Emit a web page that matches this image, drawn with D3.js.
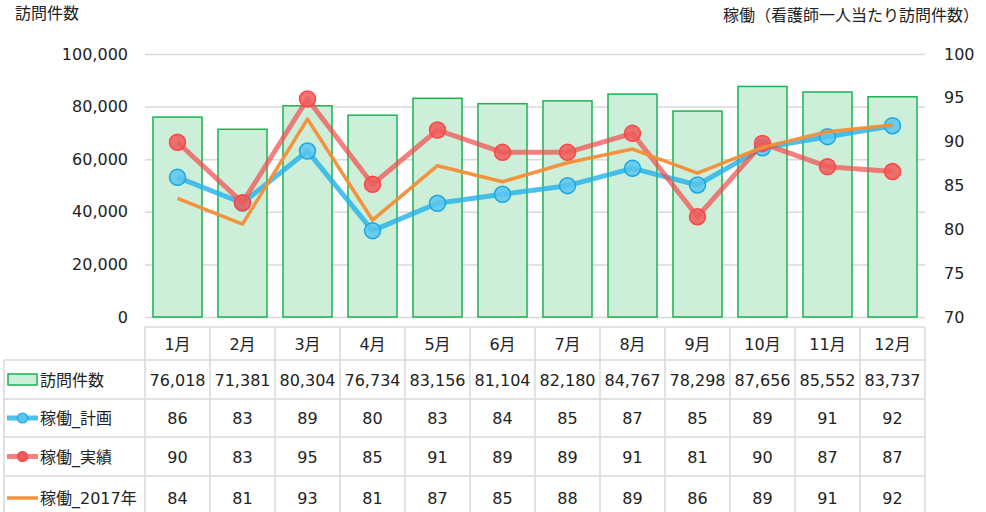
<!DOCTYPE html>
<html>
<head>
<meta charset="utf-8">
<script src="https://cdn.jsdelivr.net/npm/d3@7"></script>
<style>
  body { margin: 0; background: #fff; }
  svg text { font-family: "DejaVu Sans", "Noto Sans CJK JP", sans-serif; fill: #222; }
</style>
</head>
<body>
<div id="chart"></div>
<script>
const months = ["1月", "2月", "3月", "4月", "5月", "6月", "7月", "8月", "9月", "10月", "11月", "12月"];
const visits = [76018, 71381, 80304, 76734, 83156, 81104, 82180, 84767, 78298, 87656, 85552, 83737];
const planRate = [85.93, 83.0, 88.93, 79.85, 82.97, 84.0, 84.98, 86.96, 85.06, 89.3, 90.57, 91.82];
const actualRate = [89.93, 83.04, 94.87, 85.13, 91.33, 88.78, 88.78, 90.95, 81.44, 89.8, 87.15, 86.6];
const rate2017 = [83.54, 80.6, 92.58, 81.06, 87.26, 85.43, 87.6, 89.16, 86.4, 89.35, 91.14, 91.9];
const leftTicks = [0, 20000, 40000, 60000, 80000, 100000];
const rightTicks = [70, 75, 80, 85, 90, 95, 100];

const width = 986, height = 512;
const plotL = 145, plotR = 925, plotT = 54, plotB = 317;

const svg = d3.select("#chart").append("svg")
    .attr("width", width)
    .attr("height", height);

const x = d3.scaleBand().domain(months).range([plotL, plotR]).paddingInner(0.246).paddingOuter(0.123);
const yL = d3.scaleLinear().domain([0, 100000]).range([plotB, plotT]);
const yR = d3.scaleLinear().domain([70, 100]).range([plotB, plotT]);
const cx = m => x(m) + x.bandwidth() / 2;

// gridlines
svg.append("g")
    .attr("transform", `translate(${plotL},0)`)
    .call(d3.axisLeft(yL).tickValues(leftTicks).tickSize(-(plotR - plotL)).tickFormat(""))
    .call(g => g.select(".domain").remove())
    .call(g => g.selectAll("line").attr("stroke", "#d9d9d9").attr("stroke-width", 1.5));

// left axis labels
svg.append("g")
    .attr("transform", "translate(128,0)")
    .call(d3.axisLeft(yL).tickValues(leftTicks).tickSize(0).tickPadding(0).tickFormat(d3.format(",")))
    .call(g => g.select(".domain").remove())
    .call(g => g.selectAll("text").attr("font-size", 16).attr("fill", "#222"));

// right axis labels
svg.append("g")
    .attr("transform", "translate(944,0)")
    .call(d3.axisRight(yR).tickValues(rightTicks).tickSize(0).tickPadding(0))
    .call(g => g.select(".domain").remove())
    .call(g => g.selectAll("text").attr("font-size", 16).attr("fill", "#222"));

svg.append("text").attr("x", 15).attr("y", 19).attr("font-size", 16).text("訪問件数");
svg.append("text").attr("x", 979).attr("y", 21).attr("font-size", 16).attr("text-anchor", "end")
    .text("稼働（看護師一人当たり訪問件数）");

// bars
svg.append("g").selectAll("rect")
    .data(visits)
    .join("rect")
    .attr("x", (d, i) => x(months[i]))
    .attr("y", d => yL(d))
    .attr("width", x.bandwidth())
    .attr("height", d => yL(0) - yL(d))
    .attr("fill", "#cdeed9")
    .attr("stroke", "#1db153")
    .attr("stroke-width", 1.5);

const line = d3.line().x((d, i) => cx(months[i])).y(d => yR(d));

const series = [
    { name: "稼働_計画", values: planRate, color: "#22b0ea", lineOp: 0.8, width: 5, marker: true, mfill: "#5ac6ee", mstroke: "#1aa7e3" },
    { name: "稼働_実績", values: actualRate, color: "#f24a4a", lineOp: 0.7, width: 5, marker: true, mfill: "#ee5a5a", mstroke: "#ff4444" },
    { name: "稼働_2017年", values: rate2017, color: "#f58d35", lineOp: 0.95, width: 3.5, marker: false }
];

series.forEach(s => {
    svg.append("path")
        .datum(s.values)
        .attr("fill", "none")
        .attr("stroke", s.color)
        .attr("stroke-opacity", s.lineOp)
        .attr("stroke-width", s.width)
        .attr("stroke-linejoin", "round")
        .attr("d", line);
    if (s.marker) {
        svg.append("g").selectAll("circle")
            .data(s.values)
            .join("circle")
            .attr("cx", (d, i) => cx(months[i]))
            .attr("cy", d => yR(d))
            .attr("r", 8)
            .attr("fill", s.mfill)
            .attr("fill-opacity", 0.85)
            .attr("stroke", s.mstroke)
            .attr("stroke-width", 1.5);
    }
});

// data table
const grid = "#d9d9d9";
const rowTops = [327, 360, 399, 437, 476, 520];
const tbl = svg.append("g");
const colStep = x.step();
// horizontal lines
rowTops.forEach((ry, i) => {
    tbl.append("line")
        .attr("x1", i === 0 ? plotL : 4).attr("x2", plotR)
        .attr("y1", ry).attr("y2", ry)
        .attr("stroke", grid).attr("stroke-width", 1.5);
});
// vertical lines
tbl.append("line").attr("x1", 4).attr("x2", 4).attr("y1", 360).attr("y2", 520).attr("stroke", grid).attr("stroke-width", 1.5);
d3.range(13).forEach(i => {
    tbl.append("line")
        .attr("x1", plotL + i * colStep).attr("x2", plotL + i * colStep)
        .attr("y1", 327).attr("y2", 520)
        .attr("stroke", grid).attr("stroke-width", 1.5);
});

const rowMid = i => (rowTops[i] + rowTops[i + 1]) / 2 + 6;

tbl.selectAll(".hdr")
    .data(months)
    .join("text")
    .attr("x", d => cx(d))
    .attr("y", rowMid(0))
    .attr("text-anchor", "middle")
    .attr("font-size", 16)
    .text(d => d);

const rows = [
    { name: "訪問件数", values: visits, fmt: d3.format(",") },
    { name: series[0].name, values: planRate, fmt: d3.format(".0f") },
    { name: series[1].name, values: actualRate, fmt: d3.format(".0f") },
    { name: series[2].name, values: rate2017, fmt: d3.format(".0f") }
];

rows.forEach((r, ri) => {
    const yy = rowMid(ri + 1);
    tbl.append("g").selectAll("text")
        .data(r.values)
        .join("text")
        .attr("x", (d, i) => cx(months[i]))
        .attr("y", yy)
        .attr("text-anchor", "middle")
        .attr("font-size", 16)
        .text(d => r.fmt(d));
    tbl.append("text")
        .attr("x", 40).attr("y", yy)
        .attr("font-size", 16)
        .text(r.name);
});

// legend symbols
const ly = i => (rowTops[i] + rowTops[i + 1]) / 2;
tbl.append("rect")
    .attr("x", 8).attr("y", ly(1) - 5.5).attr("width", 29).attr("height", 11)
    .attr("fill", "#cdeed9").attr("stroke", "#1db153").attr("stroke-width", 1.5);
series.forEach((s, i) => {
    const yy = ly(i + 2);
    tbl.append("line")
        .attr("x1", 7).attr("x2", 38).attr("y1", yy).attr("y2", yy)
        .attr("stroke", s.color).attr("stroke-opacity", s.lineOp).attr("stroke-width", s.width);
    if (s.marker) {
        tbl.append("circle")
            .attr("cx", 22.5).attr("cy", yy).attr("r", 5)
            .attr("fill", s.mfill).attr("stroke", s.mstroke).attr("stroke-width", 1.2);
    }
});
</script>
</body>
</html>
